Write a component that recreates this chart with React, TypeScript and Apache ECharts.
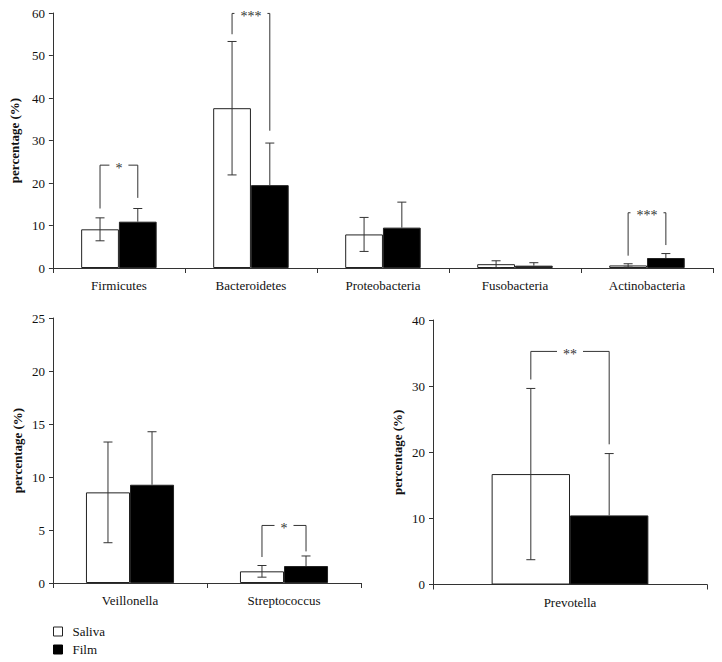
import React, { useEffect, useRef } from "react";
import * as echarts from "echarts";

// ---------- data ----------
const phylumCategories = ["Firmicutes", "Bacteroidetes", "Proteobacteria", "Fusobacteria", "Actinobacteria"];
const phylumSaliva = [9.1, 37.6, 7.9, 0.9, 0.6];
const phylumSalivaSD = [2.7, 15.7, 4.0, 0.8, 0.4];
const phylumFilm = [10.9, 19.5, 9.5, 0.55, 2.35];
const phylumFilmSD = [3.1, 9.9, 6.0, 0.7, 1.05];
// [categoryIndex, bracketTop, leftLegBottom, rightLegBottom]
const phylumBrackets = [
  [0, 24.2, 14.0, 16.5],
  [1, 59.9, 55.0, 32.3],
  [4, 13.0, 2.9, 5.4],
];
const phylumBracketLabels = ["*", "***", "***"];
const phylumTicks = { min: 0, max: 60, interval: 10 };

const genusCategories = ["Veillonella", "Streptococcus"];
const genusSaliva = [8.55, 1.1];
const genusSalivaSD = [4.75, 0.55];
const genusFilm = [9.27, 1.6];
const genusFilmSD = [5.0, 0.95];
const genusBrackets = [[1, 5.43, 2.45, 2.98]];
const genusBracketLabels = ["*"];
const genusTicks = { min: 0, max: 25, interval: 5 };

const prevCategories = ["Prevotella"];
const prevSaliva = [16.7];
const prevSalivaSD = [12.95];
const prevFilm = [10.45];
const prevFilmSD = [9.35];
const prevBrackets = [[0, 35.25, 31.0, 21.2]];
const prevBracketLabels = ["**"];
const prevTicks = { min: 0, max: 40, interval: 10 };

const seriesNames = ["Saliva", "Film"];

// ---------- style ----------
const FONT = "Liberation Serif";
const BAR_FRAC = 0.286;
const LINE = "#333";
// square legend icon followed by a blank run, so the label sits a little further right
const LEGEND_ICON = "path://M0 0L9 0L9 9L0 9Z M14 4.5L14 4.5";

function errorRender(side: number, lowerVisible: boolean) {
  return (params: any, api: any) => {
    const cat = api.value(0);
    const mean = api.value(1);
    const sd = api.value(2);
    const band = api.size([1, 0])[0];
    const c = api.coord([cat, mean]);
    const x = c[0] + (side * band * BAR_FRAC) / 2;
    const yTop = api.coord([cat, mean + sd])[1];
    const yBot = lowerVisible ? api.coord([cat, Math.max(0, mean - sd)])[1] : c[1];
    const cap = 4.5;
    const st = { stroke: LINE, lineWidth: 1, fill: null };
    const children: any[] = [
      { type: "line", shape: { x1: x, y1: yTop, x2: x, y2: yBot }, style: st },
      { type: "line", shape: { x1: x - cap, y1: yTop, x2: x + cap, y2: yTop }, style: st },
    ];
    if (lowerVisible) {
      children.push({ type: "line", shape: { x1: x - cap, y1: yBot, x2: x + cap, y2: yBot }, style: st });
    }
    return { type: "group", children };
  };
}

function bracketRender(labels: string[]) {
  return (params: any, api: any) => {
    const cat = api.value(0);
    const top = api.value(1);
    const lb = api.value(2);
    const rb = api.value(3);
    const band = api.size([1, 0])[0];
    const pt = api.coord([cat, top]);
    const xl = pt[0] - (band * BAR_FRAC) / 2;
    const xr = pt[0] + (band * BAR_FRAC) / 2;
    const yt = pt[1];
    const yl = api.coord([cat, lb])[1];
    const yr = api.coord([cat, rb])[1];
    return {
      type: "group",
      children: [
        {
          type: "polyline",
          shape: { points: [[xl, yl], [xl, yt], [xr, yt], [xr, yr]] },
          style: { stroke: LINE, lineWidth: 1, fill: null },
        },
        {
          type: "text",
          x: pt[0],
          y: yt + 3,
          style: {
            text: labels[params.dataIndex],
            fontFamily: FONT,
            fontSize: 14,
            fill: "#333",
            textFill: "#333",
            align: "center",
            verticalAlign: "middle",
            backgroundColor: "#fff",
            padding: [0, 6],
          },
        },
      ],
    };
  };
}

function buildPanel(
  idx: number,
  cats: string[],
  saliva: number[],
  salivaSD: number[],
  film: number[],
  filmSD: number[],
  brackets: number[][],
  labels: string[],
  ticks: { min: number; max: number; interval: number }
) {
  const xAxis = {
    type: "category",
    gridIndex: idx,
    data: cats,
    axisLine: { lineStyle: { color: LINE, width: 1 } },
    axisTick: { show: true, length: 5, lineStyle: { color: LINE } },
    axisLabel: { color: "#111", fontFamily: FONT, fontSize: 13, margin: 11 },
  };
  const yAxis = {
    type: "value",
    gridIndex: idx,
    min: ticks.min,
    max: ticks.max,
    interval: ticks.interval,
    name: "percentage (%)",
    nameLocation: "middle",
    nameGap: 29,
    nameTextStyle: { fontFamily: FONT, fontSize: 13, fontWeight: "bold", color: "#111" },
    axisLine: { show: true, lineStyle: { color: LINE, width: 1 } },
    axisTick: { show: true, length: 4, lineStyle: { color: LINE } },
    axisLabel: { color: "#111", fontFamily: FONT, fontSize: 13, margin: 8 },
    splitLine: { show: false },
  };
  const series: any[] = [
    {
      name: seriesNames[0],
      type: "bar",
      xAxisIndex: idx,
      yAxisIndex: idx,
      data: saliva,
      barWidth: (BAR_FRAC * 100).toFixed(1) + "%",
      barGap: "0%",
      itemStyle: { color: "#fff", borderColor: "#222", borderWidth: 1 },
      silent: true,
    },
    {
      name: seriesNames[1],
      type: "bar",
      xAxisIndex: idx,
      yAxisIndex: idx,
      data: film,
      barWidth: (BAR_FRAC * 100).toFixed(1) + "%",
      barGap: "0%",
      itemStyle: { color: "#000", borderColor: "#222", borderWidth: 1 },
      silent: true,
    },
    {
      type: "custom",
      xAxisIndex: idx,
      yAxisIndex: idx,
      renderItem: errorRender(-1, true),
      data: saliva.map((v, i) => [i, v, salivaSD[i]]),
      itemStyle: { color: LINE },
      z: 3,
      silent: true,
    },
    {
      type: "custom",
      xAxisIndex: idx,
      yAxisIndex: idx,
      renderItem: errorRender(1, false),
      data: film.map((v, i) => [i, v, filmSD[i]]),
      itemStyle: { color: LINE },
      z: 3,
      silent: true,
    },
    {
      type: "custom",
      xAxisIndex: idx,
      yAxisIndex: idx,
      renderItem: bracketRender(labels),
      data: brackets,
      itemStyle: { color: "#333" },
      z: 4,
      silent: true,
      clip: false,
    },
  ];
  return { xAxis, yAxis, series };
}

export default function App() {
  const ref = useRef<HTMLDivElement>(null);
  useEffect(() => {
    if (!ref.current) return;
    const chart = echarts.init(ref.current, undefined, { renderer: "svg" });
    const p0 = buildPanel(0, phylumCategories, phylumSaliva, phylumSalivaSD, phylumFilm, phylumFilmSD, phylumBrackets, phylumBracketLabels, phylumTicks);
    const p1 = buildPanel(1, genusCategories, genusSaliva, genusSalivaSD, genusFilm, genusFilmSD, genusBrackets, genusBracketLabels, genusTicks);
    const p2 = buildPanel(2, prevCategories, prevSaliva, prevSalivaSD, prevFilm, prevFilmSD, prevBrackets, prevBracketLabels, prevTicks);
    chart.setOption({
      animation: false,
      backgroundColor: "#fff",
      textStyle: { fontFamily: FONT },
      grid: [
        { left: 52, top: 13, width: 661, height: 255 },
        { left: 53, top: 318, width: 308, height: 265 },
        { left: 433, top: 320, width: 274, height: 264.5 },
      ],
      legend: {
        orient: "vertical",
        left: 53,
        top: 625,
        padding: 0,
        itemWidth: 14,
        itemHeight: 9,
        itemGap: 5,
        selectedMode: false,
        textStyle: { fontFamily: FONT, fontSize: 13, color: "#111" },
        data: [
          { name: "Saliva", icon: LEGEND_ICON, itemStyle: { color: "#fff", borderColor: "#222", borderWidth: 1 } },
          { name: "Film", icon: LEGEND_ICON, itemStyle: { color: "#000", borderColor: "#000", borderWidth: 1 } },
        ],
      },
      xAxis: [p0.xAxis, p1.xAxis, p2.xAxis],
      yAxis: [p0.yAxis, p1.yAxis, p2.yAxis],
      series: [...p0.series, ...p1.series, ...p2.series],
    });
    return () => chart.dispose();
  }, []);
  return (
    <div
      ref={ref}
      style={{ position: "absolute", left: 0, top: 0, width: 722, height: 662, background: "#fff" }}
    />
  );
}
